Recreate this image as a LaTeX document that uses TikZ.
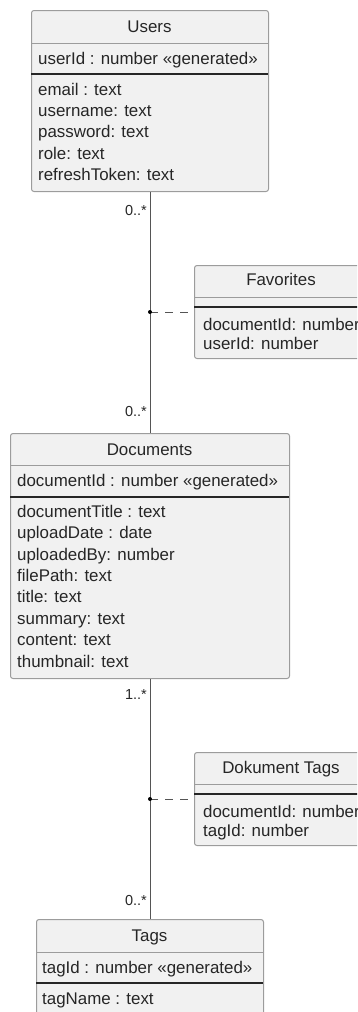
\documentclass[tikz,border=0pt]{standalone}
\usepackage{fontspec}
\setmainfont{Liberation Sans}
\usepackage{tikz}
\usetikzlibrary{positioning}

\definecolor{classfill}{HTML}{F1F1F1}
\definecolor{classline}{HTML}{9C9C9C}
\definecolor{linkline}{HTML}{555555}

\begin{document}
\begin{tikzpicture}[x=1pt, y=-1pt, font=\fontsize{16.9}{19}\selectfont]
        % Setup the styles for the classes and links
        \tikzset{class/.style={draw=classline, fill=classfill, line width=1pt,
                               rounded corners=2.5pt, anchor=north west, inner sep=0pt},
                 classname/.style={inner sep=0pt, text height=12pt, text depth=3.5pt, text=black!85},
                 attr/.style={anchor=west, inner sep=0pt, text height=12pt, text depth=3.5pt, text=black!85},
                 thin rule/.style={draw=classline, line width=1pt},
                 thick rule/.style={draw=black!85, line width=1.5pt},
                 link/.style={draw=linkline, line width=0.9pt},
                 assoc/.style={draw=linkline, line width=0.9pt, dash pattern=on 8pt off 7pt},
                 mult/.style={anchor=east, inner sep=0pt, text=black!85,
                              font=\fontsize{14.5}{16}\selectfont}}

        \useasboundingbox (0,0) rectangle (357,1012);
        \clip (0,0) rectangle (357,1012);

        % Users
        \node[class, minimum width=237pt, minimum height=181pt] at (31,10) (users) {};
        \draw[thin rule]  (31,43) -- (268,43);
        \draw[thick rule] (31,74) -- (268,74);
        \node[classname] at (149.5,28) (users-name) {Users};
        \node[attr] at (38,60) (users-key) {userId : number «generated»};
        \foreach \txt [count=\i] in {email : text, username: text, password: text,
                                     role: text, refreshToken: text}
            \node[attr] at (38,69.75+\i*21.25) (users-f\i) {\txt};

        % Documents
        \node[class, minimum width=279pt, minimum height=245pt] at (10,433) (documents) {};
        \draw[thin rule]  (10,465) -- (289,465);
        \draw[thick rule] (10,497) -- (289,497);
        \node[classname] at (149.5,451) (documents-name) {Documents};
        \node[attr] at (17,482) (documents-key) {documentId : number «generated»};
        \foreach \txt [count=\i] in {documentTitle : text, uploadDate : date, uploadedBy: number,
                                     filePath: text, title: text, summary: text,
                                     content: text, thumbnail: text}
            \node[attr] at (17,491.6+\i*21.4) (documents-f\i) {\txt};

        % Tags
        \node[class, minimum width=227pt, minimum height=110pt] at (36,919) (tags) {};
        \draw[thin rule]  (36,952) -- (263,952);
        \draw[thick rule] (36,983) -- (263,983);
        \node[classname] at (149.5,937) (tags-name) {Tags};
        \node[attr] at (42,969) (tags-key) {tagId : number «generated»};
        \node[attr] at (42,1000) (tags-f1) {tagName : text};

        % Favorites (association class)
        \node[class, minimum width=175pt, minimum height=93pt] at (194,265) (favorites) {};
        \draw[thin rule]  (194,297) -- (369,297);
        \draw[thick rule] (194,307) -- (369,307);
        \node[classname] at (281,281) (favorites-name) {Favorites};
        \foreach \txt [count=\i] in {documentId: number, userId: number}
            \node[attr] at (203,307+\i*19) (favorites-f\i) {\txt};

        % Dokument Tags (association class)
        \node[class, minimum width=175pt, minimum height=93pt] at (194,752) (doktags) {};
        \draw[thin rule]  (194,784) -- (369,784);
        \draw[thick rule] (194,794) -- (369,794);
        \node[classname] at (281,769) (doktags-name) {Dokument Tags};
        \foreach \txt [count=\i] in {documentId: number, tagId: number}
            \node[attr] at (203,794+\i*19) (doktags-f\i) {\txt};

        % Associations with multiplicities
        \draw[link] (users.south) -- (documents.north);
        \draw[link] (documents.south) -- (tags.north);
        \node[mult] at (147,211) (users-mult) {0..*};
        \node[mult] at (147,412) (documents-mult-top) {0..*};
        \node[mult] at (147,695) (documents-mult-bottom) {1..*};
        \node[mult] at (147,900) (tags-mult) {0..*};

        % Link the association classes
        \coordinate (fav-link) at (users.south |- favorites.west);
        \coordinate (tag-link) at (documents.south |- doktags.west);
        \draw[assoc] (fav-link) -- (favorites.west);
        \draw[assoc] (tag-link) -- (doktags.west);
        \fill[black] (fav-link) circle (2pt);
        \fill[black] (tag-link) circle (2pt);
\end{tikzpicture}
\end{document}
